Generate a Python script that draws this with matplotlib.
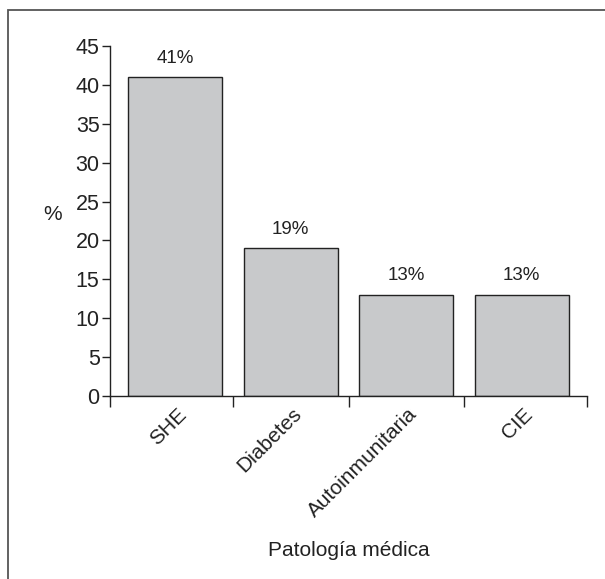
import matplotlib.pyplot as plt
from matplotlib.patches import Rectangle

plt.rcParams['font.family'] = ['Liberation Sans', 'DejaVu Sans']

categorias = ["SHE", "Diabetes", "Autoinmunitaria", "CIE"]
porcentajes = [41, 19, 13, 13]
etiquetas = ["41%", "19%", "13%", "13%"]

fig = plt.figure(figsize=(6.05, 5.79), dpi=100)
ax = fig.add_axes([110 / 605, 1 - 396 / 579, 477 / 605, 350 / 579])

# marco exterior de la figura (solo se ven el borde superior e izquierdo)
fig.patches.append(Rectangle((8 / 605, -0.5), 1.5, 1.5 - 10 / 579, transform=fig.transFigure,
                             fill=False, edgecolor="#555555", linewidth=1.3, clip_on=False))

x = range(len(categorias))
ax.bar(x, porcentajes, width=0.81, color="#c8c9cb", edgecolor="#222222", linewidth=1.0)
for i, (v, t) in enumerate(zip(porcentajes, etiquetas)):
    ax.annotate(t, (i, v), xytext=(0, 7.5), textcoords="offset points",
                ha="center", va="bottom", fontsize=13.5, color="#222222")

ax.set_xlim(-0.565, 3.565)
ax.set_ylim(0, 45)
ax.set_yticks(range(0, 46, 5))
ax.tick_params(axis="y", labelsize=15.5, length=6, width=1.0, color="#222222",
               labelcolor="#222222", pad=1.5)

# divisiones del eje x entre categorías, nombres centrados en cada barra
ax.set_xticks([-0.565, 0.5, 1.5, 2.5, 3.565])
ax.set_xticklabels([])
ax.tick_params(axis="x", which="major", length=8, width=1.0, color="#222222")
ax.set_xticks([i + 0.07 for i in x], minor=True)
ax.set_xticklabels(categorias, minor=True, rotation=45, ha="right", va="center",
                   rotation_mode="anchor", fontsize=15, color="#222222")
ax.tick_params(axis="x", which="minor", length=0, pad=11)

for s in ["top", "right"]:
    ax.spines[s].set_visible(False)
for s in ["left", "bottom"]:
    ax.spines[s].set_linewidth(1.0)
    ax.spines[s].set_color("#222222")

ax.set_ylabel("%", rotation=0, fontsize=15, color="#222222", va="center")
ax.yaxis.set_label_coords(-0.12, 0.52)
ax.set_xlabel("Patología médica", fontsize=15, color="#222222")
ax.xaxis.set_label_coords(0.5, -0.415)

fig.savefig("out.png", dpi=100)
